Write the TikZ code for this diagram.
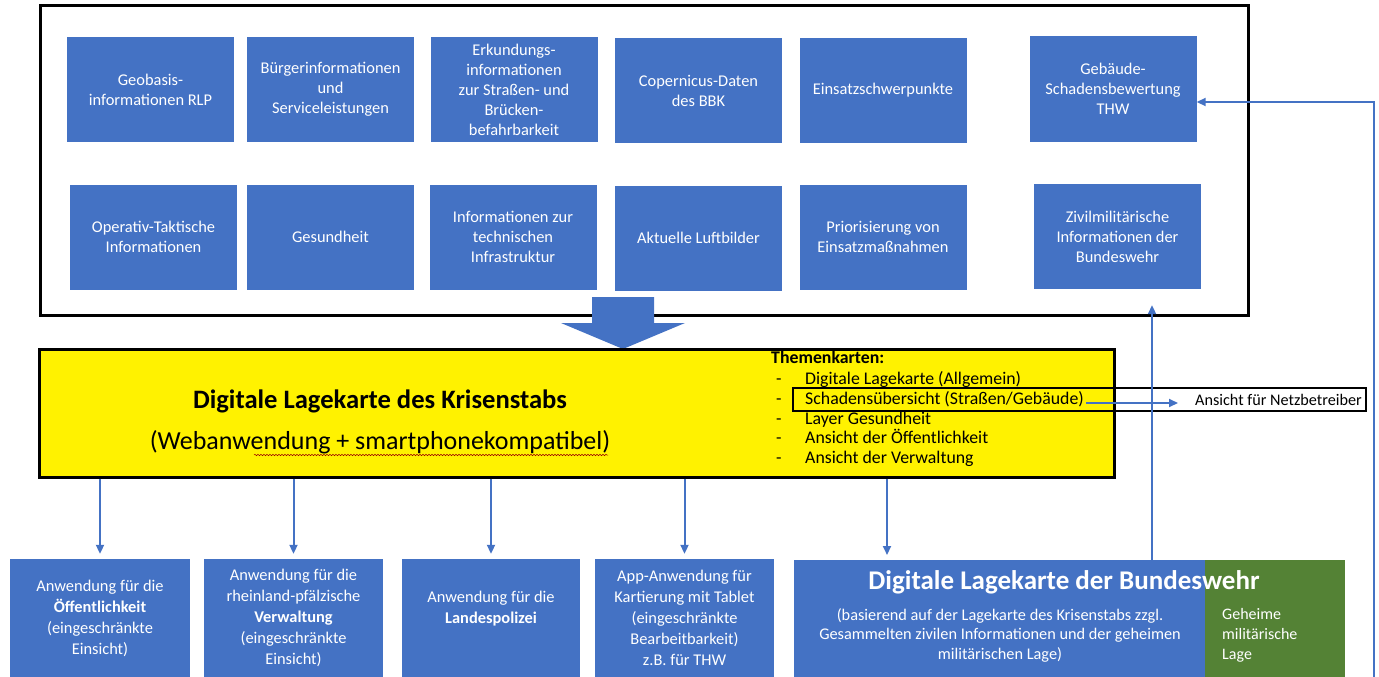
\documentclass[tikz,border=0pt]{standalone}
\usepackage{fontspec}
\setmainfont{Carlito}
\usetikzlibrary{arrows.meta,decorations.pathmorphing}
\definecolor{officeblue}{HTML}{4472C4}
\definecolor{officegreen}{HTML}{548235}

\begin{document}
\begin{tikzpicture}[x=1pt,y=-1pt,tile/.style={rectangle,fill=officeblue,text=white,minimum width=167pt,minimum height=105pt,inner sep=0pt,align=center,font=\fontsize{16.4}{20}\selectfont},app/.style={rectangle,fill=officeblue,text=white,minimum height=118pt,inner sep=0pt,align=center,font=\fontsize{16.4}{21}\selectfont},item/.style={anchor=base west,inner sep=0pt,font=\fontsize{17.8}{20}\selectfont},link/.style={draw=officeblue,line width=2pt,-{Triangle[length=9pt,width=8pt]}}]
\useasboundingbox (0,0) rectangle (1379,677);
\draw[line width=3pt] (40,6) rectangle (1248,315);
\node[tile] (geobasis) at (150.5,89.5) {Geobasis-\\informationen RLP};
\node[tile] (buerger) at (330.5,89.5) {Bürgerinformationen\\und\\Serviceleistungen};
\node[tile] (erkundung) at (514,89.5) {Erkundungs-\\informationen\\zur Straßen- und\\Brücken-\\befahrbarkeit};
\node[tile] (copernicus) at (698.5,90.5) {Copernicus-Daten\\des BBK};
\node[tile] (einsatz) at (883,90.5) {Einsatzschwerpunkte};
\node[tile] (gebaeude) at (1113,89) {Gebäude-\\Schadensbewertung\\THW};
\node[tile] (operativ) at (153.5,237) {Operativ-Taktische\\Informationen};
\node[tile] (gesundheit) at (330.5,237) {Gesundheit};
\node[tile] (infra) at (513,237) {Informationen zur\\technischen\\Infrastruktur};
\node[tile] (luftbilder) at (698.5,238) {Aktuelle Luftbilder};
\node[tile] (prio) at (883,237) {Priorisierung von\\Einsatzmaßnahmen};
\node[tile] (zivil) at (1117.5,236.5) {Zivilmilitärische\\Informationen der\\Bundeswehr};
\fill[officeblue] (592,297) -- (654,297) -- (654,323) -- (685,323) -- (623,349) -- (561,323) -- (592,323) -- cycle;
\node[rectangle,draw=black,line width=3pt,fill=yellow,minimum width=1075pt,minimum height=128pt,inner sep=0pt] (krisenstab) at (576.5,413) {};
\node[font=\bfseries\fontsize{26.6}{30}\selectfont] (titel) at (380,401) {Digitale Lagekarte des Krisenstabs};
\node[font=\fontsize{26}{30}\selectfont] (untertitel) at (380,442) {(Webanwendung + smartphonekompatibel)};
\draw[decorate,decoration={snake,amplitude=0.7pt,segment length=3pt},draw=red!60!black,line width=0.5pt] (254,455) -- (608,455);
\node[item,font=\bfseries\fontsize{17.8}{20}\selectfont] (themen) at (771,363) {Themenkarten:};
\node[item] (d1) at (776,384) {-};
\node[item] (t1) at (805,384) {Digitale Lagekarte (Allgemein)};
\node[item] (d2) at (776,404) {-};
\node[item] (schaden) at (805,404) {Schadensübersicht (Straßen/Gebäude)};
\node[item] (d3) at (776,424) {-};
\node[item] (t3) at (805,424) {Layer Gesundheit};
\node[item] (d4) at (776,443) {-};
\node[item] (t4) at (805,443) {Ansicht der Öffentlichkeit};
\node[item] (d5) at (776,463) {-};
\node[item] (t5) at (805,463) {Ansicht der Verwaltung};
\draw[line width=1.5pt] (793,388) rectangle (1366,411);
\node[item,font=\fontsize{16.2}{18}\selectfont] (netz) at (1195,405) {Ansicht für Netzbetreiber};
\coordinate (netzein) at (1195,403);
\draw[link,shorten <=2pt,shorten >=17pt] (schaden.east |- netzein) -- (netzein);
\node[app,minimum width=180pt] (oeffentlich) at (100,618) {Anwendung für die\\\textbf{Öffentlichkeit}\\(eingeschränkte\\Einsicht)};
\node[app,minimum width=179pt] (verwaltung) at (293.5,618) {Anwendung für die\\rheinland-pfälzische\\\textbf{Verwaltung}\\(eingeschränkte\\Einsicht)};
\node[app,minimum width=178pt] (polizei) at (491,618) {Anwendung für die\\\textbf{Landespolizei}\\~};
\node[app,minimum width=179pt] (kartierung) at (684.5,618) {App-Anwendung für\\Kartierung mit Tablet\\(eingeschränkte\\Bearbeitbarkeit)\\z.B. für THW};
\node[app,minimum width=411pt,minimum height=117pt] (bundeswehr) at (999.5,618.5) {};
\node[app,fill=officegreen,minimum width=140pt,minimum height=117pt] (geheim) at (1275,618.5) {};
\node[text=white,font=\bfseries\fontsize{27}{30}\selectfont] (bwtitel) at (1064,582) {Digitale Lagekarte der Bundeswehr};
\node[text=white,align=center,font=\fontsize{16.3}{19.5}\selectfont] (bwtext) at (1000,635) {(basierend auf der Lagekarte des Krisenstabs zzgl.\\Gesammelten zivilen Informationen und der geheimen\\militärischen Lage)};
\node[text=white,align=left,anchor=west,inner sep=0pt,font=\fontsize{16}{20}\selectfont] (geheimtext) at (1222,635) {Geheime\\militärische\\Lage};
\coordinate (bwein) at (887,560);
\coordinate (bwaus) at (1152,560);
\coordinate (rueck) at (1374,677);
\draw[link,shorten >=5pt] (krisenstab.south -| oeffentlich.north) -- (oeffentlich.north);
\draw[link,shorten >=5pt] (krisenstab.south -| verwaltung.north) -- (verwaltung.north);
\draw[link,shorten >=5pt] (krisenstab.south -| polizei.north) -- (polizei.north);
\draw[link,shorten >=5pt] (krisenstab.south -| kartierung.north) -- (kartierung.north);
\draw[link,shorten >=5pt] (krisenstab.south -| bwein) -- (bwein);
\draw[link,shorten >=16pt] (bwaus) -- (bwaus |- zivil.south);
\draw[link] (rueck) |- ([yshift=-13pt]gebaeude.east);
\end{tikzpicture}
\end{document}
